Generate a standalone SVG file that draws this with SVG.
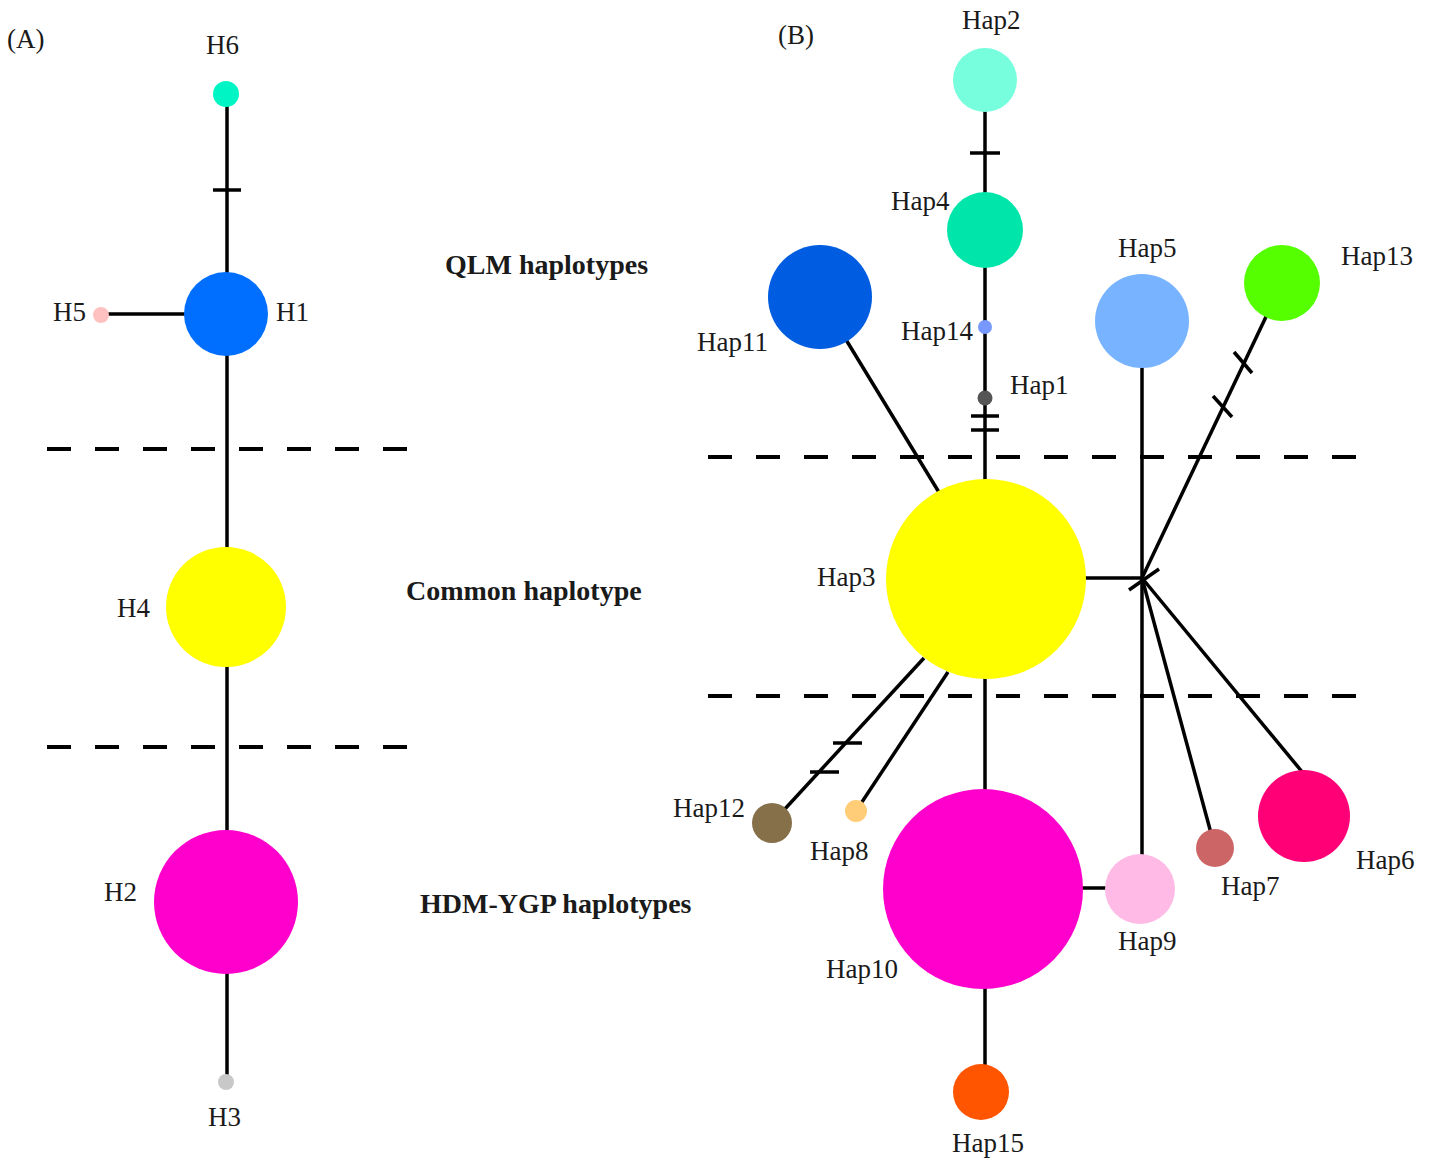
<svg xmlns="http://www.w3.org/2000/svg" width="1432" height="1158" viewBox="0 0 1432 1158">
<style>
.lbl{font-family:"Liberation Serif","Times New Roman",serif;font-size:27px;fill:#1a1a1a}
.grp{font-family:"Liberation Serif","Times New Roman",serif;font-size:28px;font-weight:bold;fill:#1a1a1a}
.ln{stroke:#000;stroke-width:3.5;fill:none}
.dash{stroke:#000;stroke-width:4;stroke-dasharray:24 24;fill:none}
</style>
<rect width="1432" height="1158" fill="#fff"/>
<text class="lbl" x="7" y="48">(A)</text>
<text class="lbl" x="778" y="44">(B)</text>
<g id="dividers">
<line class="dash" x1="47" y1="449" x2="412" y2="449"/>
<line class="dash" x1="47" y1="747" x2="412" y2="747"/>
<line class="dash" x1="708" y1="457" x2="1362" y2="457"/>
<line class="dash" x1="708" y1="696" x2="1362" y2="696"/>
</g>
<g id="connectors">
<line class="ln" x1="227" y1="94" x2="227" y2="1082"/>
<line class="ln" x1="213" y1="190" x2="241" y2="190"/>
<line class="ln" x1="101" y1="314" x2="200" y2="314"/>
<line class="ln" x1="985" y1="80" x2="985" y2="889"/>
<line class="ln" x1="970" y1="153" x2="1000" y2="153"/>
<line class="ln" x1="971" y1="416" x2="999" y2="416"/>
<line class="ln" x1="971" y1="430" x2="999" y2="430"/>
<line class="ln" x1="985" y1="889" x2="985" y2="1092"/>
<line class="ln" x1="820" y1="297" x2="940" y2="494"/>
<line class="ln" x1="1142" y1="321" x2="1142" y2="889"/>
<line class="ln" x1="1282" y1="283" x2="1142" y2="578"/>
<line class="ln" x1="1234" y1="352" x2="1252" y2="373"/>
<line class="ln" x1="1213" y1="396" x2="1232" y2="417"/>
<line class="ln" x1="1129" y1="590" x2="1159" y2="569"/>
<line class="ln" x1="986" y1="578" x2="1142" y2="578"/>
<line class="ln" x1="1142" y1="578" x2="1215" y2="848"/>
<line class="ln" x1="1142" y1="578" x2="1308" y2="779"/>
<line class="ln" x1="985" y1="888" x2="1140" y2="888"/>
<line class="ln" x1="772" y1="823" x2="924" y2="658"/>
<line class="ln" x1="833" y1="743" x2="862" y2="743"/>
<line class="ln" x1="810" y1="772" x2="839" y2="772"/>
<line class="ln" x1="856" y1="811" x2="948" y2="672"/>
</g>
<g id="H6"><circle cx="226" cy="94" r="13" fill="#00f5c4"/><text class="lbl" x="206" y="54">H6</text></g>
<g id="H1"><circle cx="226" cy="314" r="42" fill="#006eff"/><text class="lbl" x="276" y="321">H1</text></g>
<g id="H5"><circle cx="101" cy="315" r="8" fill="#ffc0c0"/><text class="lbl" x="53" y="321">H5</text></g>
<g id="H4"><circle cx="226" cy="607" r="60" fill="#ffff00"/><text class="lbl" x="117" y="617">H4</text></g>
<g id="H2"><circle cx="226" cy="902" r="72" fill="#ff00cc"/><text class="lbl" x="104" y="901">H2</text></g>
<g id="H3"><circle cx="226" cy="1082" r="8" fill="#c8c8c8"/><text class="lbl" x="208" y="1126">H3</text></g>
<g id="labels-A">
<text class="grp" x="445" y="274">QLM haplotypes</text>
<text class="grp" x="406" y="600">Common haplotype</text>
<text class="grp" x="420" y="913">HDM-YGP haplotypes</text>
</g>
<g id="Hap2"><circle cx="985" cy="80" r="32" fill="#77ffdd"/><text class="lbl" x="962" y="29">Hap2</text></g>
<g id="Hap4"><circle cx="985" cy="230" r="38" fill="#00e6aa"/><text class="lbl" x="891" y="210">Hap4</text></g>
<g id="Hap14"><circle cx="985" cy="327" r="7" fill="#7799ff"/><text class="lbl" x="901" y="340">Hap14</text></g>
<g id="Hap1"><circle cx="985" cy="398" r="7.5" fill="#555555"/><text class="lbl" x="1010" y="394">Hap1</text></g>
<g id="Hap11"><circle cx="820" cy="297" r="52" fill="#005ce0"/><text class="lbl" x="697" y="351">Hap11</text></g>
<g id="Hap5"><circle cx="1142" cy="321" r="47" fill="#77b3ff"/><text class="lbl" x="1118" y="257">Hap5</text></g>
<g id="Hap13"><circle cx="1282" cy="283" r="38" fill="#55ff00"/><text class="lbl" x="1341" y="265">Hap13</text></g>
<g id="Hap3"><circle cx="986" cy="579" r="100" fill="#ffff00"/><text class="lbl" x="817" y="586">Hap3</text></g>
<g id="Hap10"><circle cx="983" cy="889" r="100" fill="#ff00cc"/><text class="lbl" x="826" y="978">Hap10</text></g>
<g id="Hap9"><circle cx="1140" cy="889" r="35" fill="#ffbbe6"/><text class="lbl" x="1118" y="950">Hap9</text></g>
<g id="Hap7"><circle cx="1215" cy="848" r="19" fill="#cc6666"/><text class="lbl" x="1221" y="895">Hap7</text></g>
<g id="Hap6"><circle cx="1304" cy="816" r="46" fill="#ff0077"/><text class="lbl" x="1356" y="869">Hap6</text></g>
<g id="Hap15"><circle cx="981" cy="1092" r="28" fill="#ff5500"/><text class="lbl" x="952" y="1152">Hap15</text></g>
<g id="Hap12"><circle cx="772" cy="823" r="20" fill="#86704a"/><text class="lbl" x="673" y="817">Hap12</text></g>
<g id="Hap8"><circle cx="856" cy="811" r="11" fill="#ffcc77"/><text class="lbl" x="810" y="860">Hap8</text></g>
</svg>
